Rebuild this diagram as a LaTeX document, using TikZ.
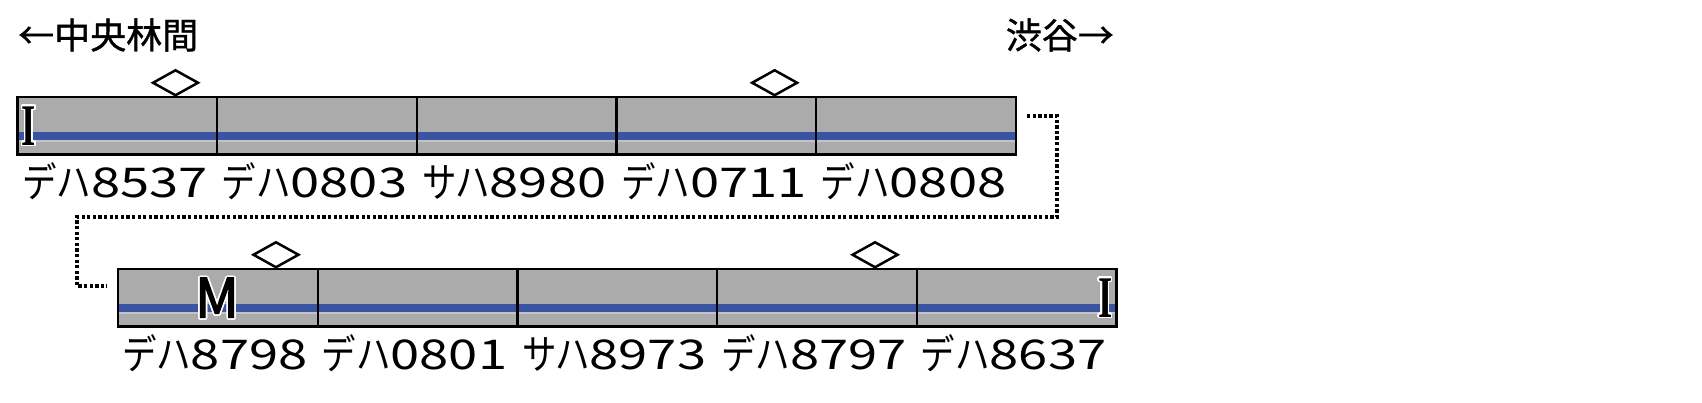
\documentclass[tikz,border=0pt]{standalone}
\usepackage{fontspec}
\usepackage{contour}
\usetikzlibrary{calc,shapes.geometric}
\newfontfamily\jp{Noto Sans CJK JP}
\newfontfamily\jpt{Noto Sans CJK JP}[FakeBold=1]
\newfontfamily\jpm{Noto Sans CJK JP}[FakeBold=2.5]
\newfontfamily\lis{Liberation Serif}
\definecolor{cargray}{HTML}{ABABAB}
\definecolor{lineblue}{HTML}{3A54A1}
\definecolor{linelight}{HTML}{C3C3C8}
\contourlength{1.6pt}
\newcommand\carlbl[2]{\fontsize{41}{41}\selectfont\scalebox{0.84}[1]{\jp #1}\scalebox{1.28}[1]{\jp #2}}
\newcommand\markI{\contour{white}{\scalebox{0.62}[1]{\lis\bfseries\fontsize{59}{59}\selectfont I}}}
\begin{document}
\begin{tikzpicture}[x=1pt,y=-1pt,
  car/.style={draw=black, line width=2.3pt, fill=cargray, minimum width=199.7pt,
    minimum height=57.5pt, inner sep=0pt, outer sep=0pt,
    path picture={
      \fill[lineblue] ($(path picture bounding box.west)+(0,6.25)$) rectangle ($(path picture bounding box.east)+(0,14.25)$);
      \fill[linelight] ($(path picture bounding box.west)+(0,14.25)$) rectangle ($(path picture bounding box.east)+(0,16)$);
    }},
  panto/.style={diamond, draw=black, fill=white, line width=2.5pt, minimum width=46pt,
    minimum height=26pt, inner sep=0pt, anchor=south},
  lbl/.style={anchor=base, inner sep=0pt},
  dotline/.style={line width=3.3pt, dash pattern=on 3.3pt off 2.3pt},
  title/.style={inner sep=0pt, font={\jpt\fontsize{36}{36}\selectfont}},
  marker/.style={inner sep=0pt}]
\useasboundingbox (0,0) rectangle (1702,402);
% titles
\node[title, anchor=west] (from) at (18,35) {←中央林間};
\node[title, anchor=east] (to) at (1114,35) {渋谷→};
% top row
\node[car] (t1) at (117.35,125.75) {};
\node[car, anchor=west] (t2) at (t1.east) {};
\node[car, anchor=west] (t3) at (t2.east) {};
\node[car, anchor=west] (t4) at (t3.east) {};
\node[car, anchor=west] (t5) at (t4.east) {};
% bottom row
\node[car] (b1) at (217.8,297.75) {};
\node[car, anchor=west] (b2) at (b1.east) {};
\node[car, anchor=west] (b3) at (b2.east) {};
\node[car, anchor=west] (b4) at (b3.east) {};
\node[car, anchor=west] (b5) at (b4.east) {};
% pantographs
\node[panto] (p1) at ($(t1.north west)+(158,0)$) {};
\node[panto] (p2) at ($(t4.north west)+(158,0)$) {};
\node[panto] (p3) at ($(b1.north west)+(158,0)$) {};
\node[panto] (p4) at ($(b4.north west)+(158,0)$) {};
% markers
\node[marker] (mi1) at ($(t1.west)+(11.5,0.75)$) {\markI};
\node[marker] (mi2) at ($(b5.east)+(-11,0.75)$) {\markI};
\node[marker] (mm) at ($(b1.center)+(-0.8,0.75)$) {\contour{white}{\jpm\fontsize{54}{54}\selectfont M}};
% labels
\node[lbl] (l1) at ($(t1.south)+(-2.5,43)$) {\carlbl{デハ}{8537}};
\node[lbl] (l2) at ($(t2.south)+(-2.5,43)$) {\carlbl{デハ}{0803}};
\node[lbl] (l3) at ($(t3.south)+(-2.5,43)$) {\carlbl{サハ}{8980}};
\node[lbl] (l4) at ($(t4.south)+(-2.5,43)$) {\carlbl{デハ}{0711}};
\node[lbl] (l5) at ($(t5.south)+(-2.5,43)$) {\carlbl{デハ}{0808}};
\node[lbl] (l6) at ($(b1.south)+(-3,42.5)$) {\carlbl{デハ}{8798}};
\node[lbl] (l7) at ($(b2.south)+(-3,42.5)$) {\carlbl{デハ}{0801}};
\node[lbl] (l8) at ($(b3.south)+(-3,42.5)$) {\carlbl{サハ}{8973}};
\node[lbl] (l9) at ($(b4.south)+(-3,42.5)$) {\carlbl{デハ}{8797}};
\node[lbl] (l10) at ($(b5.south)+(-3,42.5)$) {\carlbl{デハ}{8637}};
% dotted coupling line
\coordinate (d0) at ($(t5.east)+(11,-9.75)$);
\coordinate (d1) at ($(b1.west)+(-11,-11.75)$);
\coordinate (dA) at ($(t5.east)+(41,91.25)$);
\coordinate (dB) at ($(b1.west)+(-41,-11.75)$);
\draw[dotline] (d0) -| (dA) -| (dB) -- (d1);
\end{tikzpicture}
\end{document}
